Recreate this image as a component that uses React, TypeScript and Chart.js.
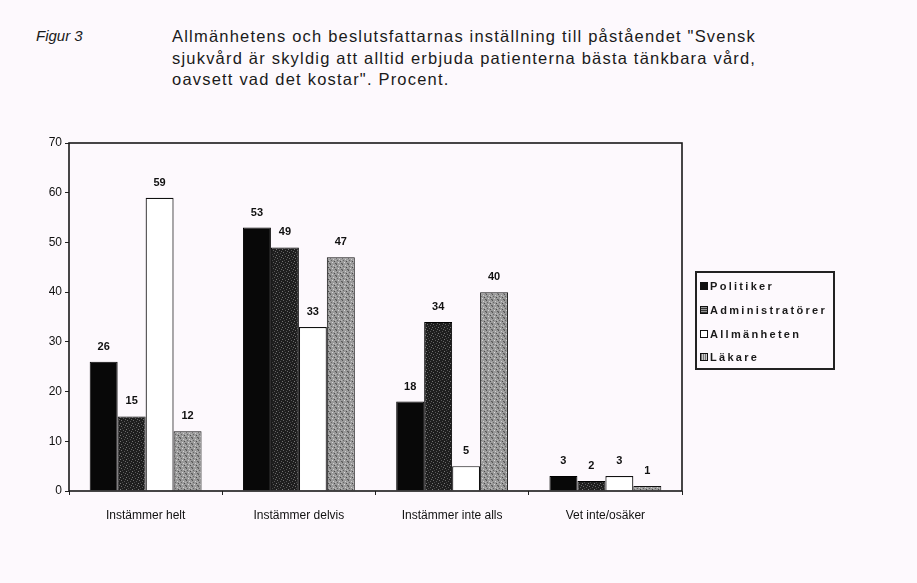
import React, { useEffect, useRef } from "react";
import { Chart, registerables } from "chart.js";

Chart.register(...registerables);

const categories = ["Instämmer helt", "Instämmer delvis", "Instämmer inte alls", "Vet inte/osäker"];
const seriesNames = ["Politiker", "Administratörer", "Allmänheten", "Läkare"];
const politiker = [26, 53, 18, 3];
const administratorer = [15, 49, 34, 2];
const allmanheten = [59, 33, 5, 3];
const lakare = [12, 47, 40, 1];
const yTicks = [0, 10, 20, 30, 40, 50, 60, 70];

const BG = "#fdf9fd";
const FONT = "'Liberation Sans', Arial, sans-serif";

function makePattern(base: string, specks: [number, number, string][], size: number): CanvasPattern | string {
  const c = document.createElement("canvas");
  c.width = size;
  c.height = size;
  const g = c.getContext("2d");
  if (!g) return base;
  g.fillStyle = base;
  g.fillRect(0, 0, size, size);
  specks.forEach(([x, y, col]) => {
    g.fillStyle = col;
    g.fillRect(x, y, 1, 1);
  });
  const p = g.createPattern(c, "repeat");
  return p || base;
}

export default function App() {
  const ref = useRef<HTMLCanvasElement | null>(null);

  useEffect(() => {
    if (!ref.current) return;
    const adminFill = makePattern(
      "#1e1e1e",
      [
        [1, 0, "#6a6a6a"], [4, 1, "#555"], [0, 3, "#777"], [3, 4, "#5a5a5a"],
        [5, 5, "#666"], [2, 2, "#444"],
      ],
      6
    );
    const lakareFill = makePattern(
      "#9a9a9a",
      [
        [0, 0, "#555"], [3, 1, "#cfcfcf"], [1, 2, "#666"], [4, 3, "#4a4a4a"],
        [2, 4, "#d5d5d5"], [5, 5, "#5a5a5a"], [5, 2, "#bbb"], [0, 5, "#707070"],
      ],
      6
    );

    const labelPlugin = {
      id: "valueLabels",
      afterDatasetsDraw(chart: any) {
        const ctx = chart.ctx;
        ctx.save();
        ctx.fillStyle = "#111";
        ctx.font = `bold 11px ${FONT}`;
        ctx.textAlign = "center";
        ctx.textBaseline = "middle";
        chart.data.datasets.forEach((ds: any, i: number) => {
          const meta = chart.getDatasetMeta(i);
          meta.data.forEach((el: any, j: number) => {
            ctx.fillText(String(ds.data[j]), el.x, el.y - 15);
          });
        });
        ctx.restore();
      },
    };

    const framePlugin = {
      id: "frame",
      afterDraw(chart: any) {
        const { ctx, chartArea } = chart;
        ctx.save();
        ctx.strokeStyle = "#1a1a1a";
        ctx.lineWidth = 1.6;
        ctx.strokeRect(chartArea.left, chartArea.top, chartArea.right - chartArea.left, chartArea.bottom - chartArea.top);
        ctx.restore();
      },
    };

    const chart = new Chart(ref.current, {
      type: "bar",
      data: {
        labels: categories,
        datasets: [
          { label: seriesNames[0], data: politiker, backgroundColor: "#080808", borderColor: "#000", borderWidth: 1 },
          { label: seriesNames[1], data: administratorer, backgroundColor: adminFill as any, borderColor: "#000", borderWidth: 1 },
          { label: seriesNames[2], data: allmanheten, backgroundColor: "#ffffff", borderColor: "#111", borderWidth: 1.2 },
          { label: seriesNames[3], data: lakare, backgroundColor: lakareFill as any, borderColor: "#111", borderWidth: 1 },
        ],
      },
      options: {
        animation: false,
        responsive: false,
        maintainAspectRatio: false,
        datasets: { bar: { barPercentage: 1, categoryPercentage: 0.73 } },
        layout: { padding: { left: 20, top: 143, right: 235, bottom: 52 } },
        plugins: { legend: { display: false }, tooltip: { enabled: false }, title: { display: false } },
        scales: {
          x: {
            grid: { drawOnChartArea: false, tickLength: 4, color: "#222", offset: true },
            border: { display: false },
            ticks: { color: "#111", font: { size: 12, family: FONT }, padding: 13 },
            afterFit: (s: any) => { s.height = 40; },
          },
          y: {
            min: 0,
            max: 70,
            afterBuildTicks: (s: any) => { s.ticks = yTicks.map((v) => ({ value: v })); },
            grid: { drawOnChartArea: false, tickLength: 4, color: "#222" },
            border: { display: false },
            ticks: { color: "#111", font: { size: 12, family: FONT }, padding: 3 },
            afterFit: (s: any) => { s.width = 49; },
          },
        },
      },
      plugins: [labelPlugin, framePlugin],
    });
    return () => chart.destroy();
  }, []);

  const legendSwatch = (i: number) => {
    const base: React.CSSProperties = { display: "inline-block", width: 8, height: 8, border: "1px solid #111", marginRight: 2, verticalAlign: "middle", boxSizing: "border-box" };
    if (i === 0) return { ...base, background: "#111" };
    if (i === 1) return { ...base, background: "repeating-linear-gradient(0deg,#333 0 1px,#999 1px 2px)" };
    if (i === 2) return { ...base, background: "#fff" };
    return { ...base, background: "repeating-linear-gradient(90deg,#777 0 1px,#ccc 1px 2px)" };
  };

  return (
    <div style={{ position: "absolute", left: 0, top: 0, width: 917, height: 583, background: BG, overflow: "hidden", fontFamily: FONT, color: "#1a1a1a" }}>
      <div style={{ position: "absolute", left: 36, top: 27, fontSize: 15, fontStyle: "italic" }}>Figur 3</div>
      <div style={{ position: "absolute", left: 172, top: 26, fontSize: 16.5, lineHeight: "21.5px", letterSpacing: 1.2, width: 700, whiteSpace: "nowrap" }}>
        <div>Allmänhetens och beslutsfattarnas inställning till påståendet "Svensk</div>
        <div>sjukvård är skyldig att alltid erbjuda patienterna bästa tänkbara vård,</div>
        <div>oavsett vad det kostar". Procent.</div>
      </div>
      <canvas ref={ref} width={917} height={583} style={{ position: "absolute", left: 0, top: 0, width: 917, height: 583 }} />
      <div style={{ position: "absolute", left: 695, top: 271, width: 140, height: 99, border: "2px solid #222", boxSizing: "border-box", padding: "5px 0 0 3px" }}>
        {seriesNames.map((n, i) => (
          <div key={n} style={{ fontSize: 11, fontWeight: "bold", letterSpacing: 2.3, height: 23.8, lineHeight: "14px", whiteSpace: "nowrap" }}>
            <span style={legendSwatch(i)} />
            <span style={{ verticalAlign: "middle" }}>{n}</span>
          </div>
        ))}
      </div>
    </div>
  );
}
